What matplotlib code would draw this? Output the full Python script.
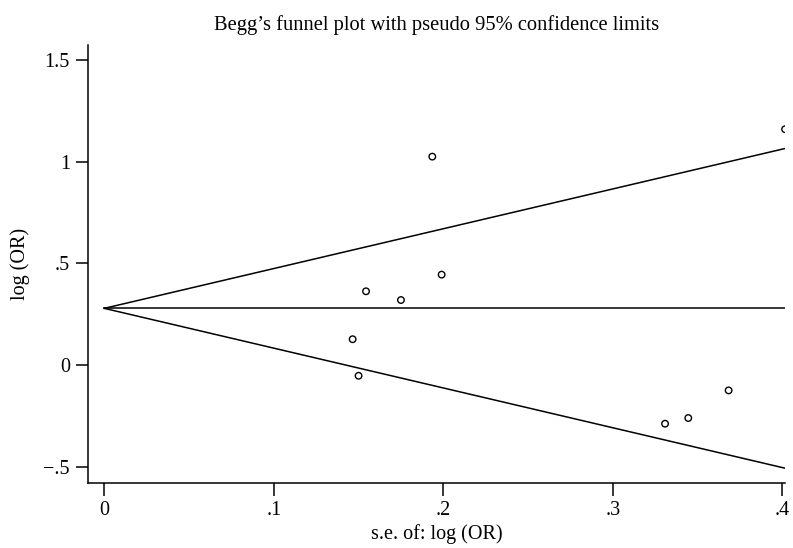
import numpy as np
import matplotlib
matplotlib.use("Agg")
import matplotlib.pyplot as plt

# study values
se_log_or = [0.4016, 0.1935, 0.199, 0.175, 0.1544, 0.1465, 0.150, 0.3308, 0.3445, 0.3683]
log_or = [1.161, 1.026, 0.445, 0.320, 0.363, 0.127, -0.053, -0.289, -0.261, -0.125]
pooled = 0.279
se_max = 0.4016

plt.rcParams['font.family'] = ['Liberation Serif', 'DejaVu Serif']

fig = plt.figure(figsize=(7.93, 5.48), dpi=100)
ax = fig.add_axes([0.111, 0.1186, 0.879, 0.7994])

# pseudo 95% confidence limits
se_line = np.array([0, se_max])
ax.plot(se_line, pooled + 1.96 * se_line, color='black', lw=1.1)
ax.plot(se_line, pooled - 1.96 * se_line, color='black', lw=1.1)
ax.plot(se_line, [pooled, pooled], color='black', lw=1.1)

ax.scatter(se_log_or, log_or, s=22, facecolors='none', edgecolors='black', linewidths=1.0, zorder=3)

ax.set_xlim(-0.0096, 0.4016)
ax.set_ylim(-0.581, 1.576)
ax.set_xticks([0, 0.1, 0.2, 0.3, 0.4])
ax.set_xticklabels(['0', '.1', '.2', '.3', '.4'])
ax.set_yticks([-0.5, 0, 0.5, 1, 1.5])
ax.set_yticklabels(['\u2212.5', '0', '.5', '1', '1.5'])

for s in ['top', 'right']:
    ax.spines[s].set_visible(False)
for s in ['left', 'bottom']:
    ax.spines[s].set_linewidth(1.1)
ax.tick_params(direction='out', length=9, width=1.1, labelsize=14.5, pad=4)

ax.set_xlabel('s.e. of: log (OR)', fontsize=14.5, labelpad=3)
ax.set_ylabel('log (OR)', fontsize=14.5, labelpad=10)
ax.set_title('Begg\u2019s funnel plot with pseudo 95% confidence limits', fontsize=14.8, pad=11)

fig.savefig('out.png', dpi=100)
